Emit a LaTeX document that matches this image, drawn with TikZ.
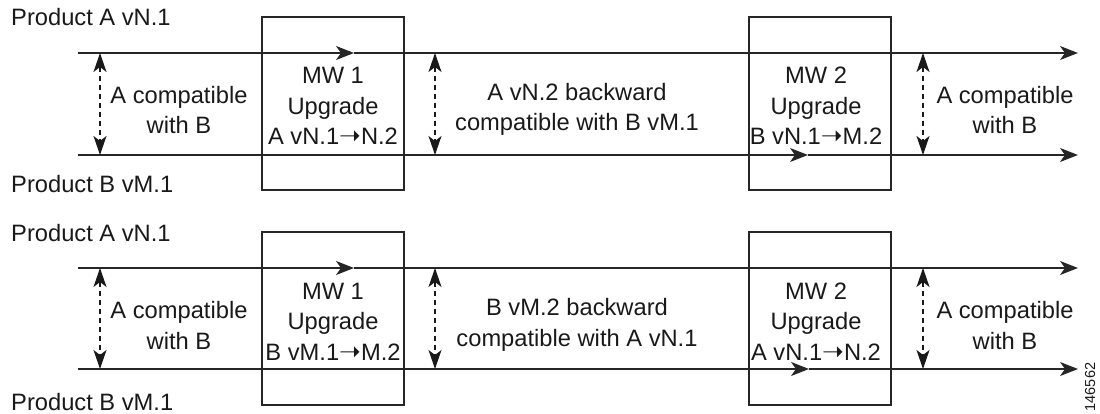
\documentclass[tikz,border=0pt]{standalone}
\usepackage{fontspec}
\setmainfont{Liberation Sans}
\newfontfamily\arrowfont{DejaVu Sans}
\newcommand{\uparr}{{\arrowfont\fontsize{26}{20}\selectfont ➝}}
\usetikzlibrary{arrows.meta}
\begin{document}
\begin{tikzpicture}[x=1pt,y=-1pt,
  track/.style={line width=1.4pt, draw=black!85},
  endtip/.style={-{Stealth[length=18pt,width=14pt,inset=5pt]}},
  compat/.style={line width=1.3pt, draw=black!90, dash pattern=on 5pt off 4pt,
     {Stealth[length=19pt,width=13pt,inset=5pt]}-{Stealth[length=19pt,width=13pt,inset=5pt]}},
  mwbox/.style={draw=black!85, line width=1.4pt, minimum width=142pt, minimum height=173pt, inner sep=0pt},
  lbl/.style={font=\fontsize{23.7}{30.5}\selectfont, text=black!90, inner sep=0pt, align=center, anchor=base},
  prod/.style={font=\fontsize{23.7}{27}\selectfont, text=black!90, inner sep=0pt, anchor=base west}]
\useasboundingbox (0,0) rectangle (1100,414);

% ---------- top panel ----------
\node[prod] (pa1) at (11,26) {Product A vN.1};
\node[prod] (pb1) at (11,193) {Product B vM.1};
\node[mwbox] (box11) at (333,103.5) {};
\node[mwbox] (box12) at (820,103.5) {};
\coordinate (a10) at (78,53);  \coordinate (a1m) at (354,53);  \coordinate (a11) at (1078,53);
\coordinate (b10) at (78,155); \coordinate (b1m) at (808,155); \coordinate (b11) at (1078,155);
\draw[track, endtip] (a10) -- (a1m);
\draw[track, endtip] (a1m) -- (a11);
\draw[track, endtip] (b10) -- (b1m);
\draw[track, endtip] (b1m) -- (b11);
\coordinate (d11t) at (100,53); \coordinate (d11b) at (100,155);
\coordinate (d12t) at (435,53); \coordinate (d12b) at (435,155);
\coordinate (d13t) at (923,53); \coordinate (d13b) at (923,155);
\draw[compat] (d11t) -- (d11b);
\draw[compat] (d12t) -- (d12b);
\draw[compat] (d13t) -- (d13b);
\node[lbl] (t11) at (179,134) {A compatible\\with B};
\node[lbl] (t12) at (333,145) {MW 1\\Upgrade\\A vN.1\uparr N.2};
\node[lbl] (t13) at (577,131) {A vN.2 backward\\compatible with B vM.1};
\node[lbl] (t14) at (816,145) {MW 2\\Upgrade\\B vN.1\uparr M.2};
\node[lbl] (t15) at (1005,134) {A compatible\\with B};

% ---------- bottom panel ----------
\begin{scope}[shift={(0,215)}]
\node[prod] (pa2) at (11,26) {Product A vN.1};
\node[prod] (pb2) at (11,195) {Product B vM.1};
\node[mwbox] (box21) at (333,103.5) {};
\node[mwbox] (box22) at (820,103.5) {};
\coordinate (a20) at (78,53);  \coordinate (a2m) at (354,53);  \coordinate (a21) at (1078,53);
\coordinate (b20) at (78,154); \coordinate (b2m) at (809,154); \coordinate (b21) at (1078,154);
\draw[track, endtip] (a20) -- (a2m);
\draw[track, endtip] (a2m) -- (a21);
\draw[track, endtip] (b20) -- (b2m);
\draw[track, endtip] (b2m) -- (b21);
\coordinate (d21t) at (100,53); \coordinate (d21b) at (100,154);
\coordinate (d22t) at (435,53); \coordinate (d22b) at (435,154);
\coordinate (d23t) at (923,53); \coordinate (d23b) at (923,154);
\draw[compat] (d21t) -- (d21b);
\draw[compat] (d22t) -- (d22b);
\draw[compat] (d23t) -- (d23b);
\node[lbl] (t21) at (179,134) {A compatible\\with B};
\node[lbl] (t22) at (333,145) {MW 1\\Upgrade\\B vM.1\uparr M.2};
\node[lbl] (t23) at (577,131) {B vM.2 backward\\compatible with A vN.1};
\node[lbl] (t24) at (816,145) {MW 2\\Upgrade\\A vN.1\uparr N.2};
\node[lbl] (t25) at (1005,134) {A compatible\\with B};
\end{scope}
\node[font=\fontsize{14.5}{16}\selectfont, text=black!90, inner sep=0pt, rotate=90] (fig) at (1090,387) {146562};
\end{tikzpicture}
\end{document}
